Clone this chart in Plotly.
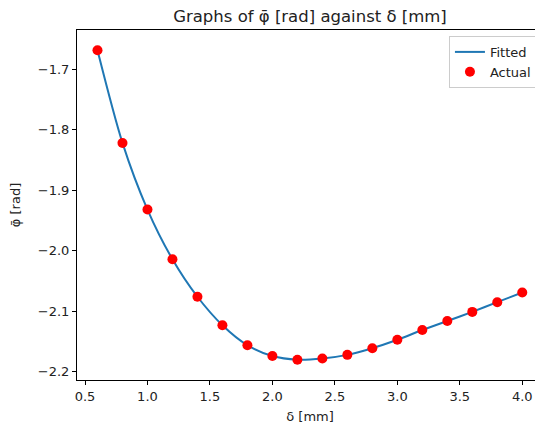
import plotly.graph_objects as go

delta_mm = [0.6, 0.8, 1.0, 1.2, 1.4, 1.6, 1.8, 2.0, 2.2, 2.4, 2.6, 2.8, 3.0, 3.2, 3.4, 3.6, 3.8, 4.0]
phi_actual = [-1.669, -1.822, -1.932, -2.014, -2.076, -2.123, -2.156, -2.174, -2.180, -2.178,
              -2.172, -2.161, -2.147, -2.131, -2.116, -2.101, -2.085, -2.069]
phi_fitted = phi_actual

x_ticks = [0.5, 1.0, 1.5, 2.0, 2.5, 3.0, 3.5, 4.0]
y_ticks = [-1.7, -1.8, -1.9, -2.0, -2.1, -2.2]

font = "DejaVu Sans, sans-serif"

# page body has an 8px default margin, so the figure is 8px smaller
W, H = 535, 416

fig = go.Figure()
fig.add_trace(go.Scatter(x=delta_mm, y=phi_fitted, mode="lines", name="Fitted",
                         line=dict(color="#1f77b4", width=2, shape="spline", smoothing=0.8)))
fig.add_trace(go.Scatter(x=delta_mm, y=phi_actual, mode="markers", name="Actual",
                         marker=dict(color="red", size=10, line=dict(width=0))))

axis_common = dict(showline=True, mirror=True, linecolor="black", linewidth=1,
                   ticks="outside", ticklen=4, tickcolor="black", showgrid=False,
                   zeroline=False, automargin=False,
                   tickfont=dict(family=font, size=13, color="#222"))

fig.update_layout(
    width=W, height=H,
    margin=dict(l=69, r=0, t=22, b=44),
    paper_bgcolor="white", plot_bgcolor="white",
    title=dict(text="Graphs of φ̄ [rad] against δ [mm]", x=302 / W, xanchor="center",
               y=1 - 8 / H, yanchor="middle", font=dict(family=font, size=16.5, color="#222")),
    xaxis=dict(range=[0.436, 4.166], tickvals=x_ticks, ticktext=[f"{v:.1f}" for v in x_ticks],
               title=dict(text="δ [mm]", font=dict(family=font, size=13, color="#222")),
               **axis_common),
    yaxis=dict(range=[-2.2135, -1.6355], tickvals=y_ticks, ticktext=[f"−{abs(v):.1f}" for v in y_ticks],
               title=dict(text="φ̄ [rad]", font=dict(family=font, size=13, color="#222")),
               **axis_common),
    legend=dict(x=0.987, y=0.983, xanchor="right", yanchor="top",
                bordercolor="#cccccc", borderwidth=1, bgcolor="rgba(255,255,255,0.8)",
                font=dict(family=font, size=13, color="#222"), itemwidth=30, tracegroupgap=0),
    showlegend=True,
)

fig.write_html("out.html")
